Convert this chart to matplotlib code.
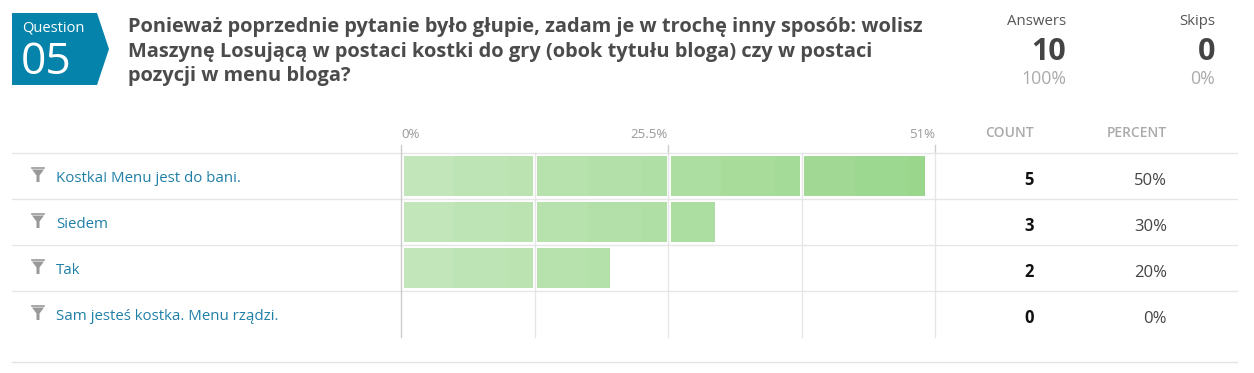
import matplotlib.pyplot as plt
import matplotlib.transforms as mtransforms
import numpy as np
from matplotlib.colors import to_rgb

plt.rcParams['font.family'] = ['Open Sans', 'DejaVu Sans']

question_no = '05'
question_lines = ['Ponieważ poprzednie pytanie było głupie, zadam je w trochę inny sposób: wolisz',
                  'Maszynę Losującą w postaci kostki do gry (obok tytułu bloga) czy w postaci',
                  'pozycji w menu bloga?']
answers = ['Kostka! Menu jest do bani.', 'Siedem', 'Tak', 'Sam jesteś kostka. Menu rządzi.']
counts = [5, 3, 2, 0]
percents = [50, 30, 20, 0]
total_answers = 10
total_skips = 0
axis_max = 51
ticks = [0, 25.5, 51]
tick_labels = ['0%', '25.5%', '51%']

W, H = 1254, 373
fig = plt.figure(figsize=(W / 100, H / 100), dpi=100)

# pixel-coordinate overlay for the decorations
bg = fig.add_axes([0, 0, 1, 1])
bg.set_xlim(0, W)
bg.set_ylim(H, 0)
bg.axis('off')

# data axes for the bars
x0, x1, y0, y1 = 401, 935, 153, 337
ax = fig.add_axes([x0 / W, (H - y1) / H, (x1 - x0) / W, (y1 - y0) / H])
ax.set_xlim(0, axis_max)
ax.set_ylim(len(answers), 0)
ax.axis('off')
ax.patch.set_alpha(0)

# header: question badge
badge = plt.Polygon([[12, 13], [97, 13], [109, 49], [97, 85], [12, 85]],
                    closed=True, color='#0683aa', lw=0)
bg.add_patch(badge)
bg.text(22, 32, 'Question', color='white', fontsize=10.5, va='baseline', ha='left')
bg.text(21, 74, question_no, color='white', fontsize=32, fontweight='medium',
        va='baseline', ha='left')
for j, line in enumerate(question_lines):
    bg.text(128, 32 + 24.5 * j, line, color='#4b4b4b', fontsize=14.4,
            fontweight='bold', va='baseline', ha='left')

# answers / skips
for xr, lab, num, pct in [(1066, 'Answers', total_answers, '100%'),
                          (1215, 'Skips', total_skips, '0%')]:
    bg.text(xr, 25, lab, color='#555555', fontsize=10.8, ha='right', va='baseline')
    bg.text(xr, 60, str(num), color='#444444', fontsize=22, fontweight='bold',
            ha='right', va='baseline')
    bg.text(xr, 84, pct, color='#aaaaaa', fontsize=12.8, ha='right', va='baseline')

# column headers
bg.text(1034, 137, 'COUNT', color='#aaaaaa', fontsize=10, fontweight='semibold',
        ha='right', va='baseline')
bg.text(1167, 137, 'PERCENT', color='#aaaaaa', fontsize=10, fontweight='semibold',
        ha='right', va='baseline')
bg.plot([12, 1237], [362, 362], color='#e3e3e3', lw=1)

# axis ticks
tick_tr = mtransforms.blended_transform_factory(ax.transData, bg.transData)
for t, lab in zip(ticks, tick_labels):
    ha = 'left' if t == 0 else 'right'
    bg.text(t, 137.5, lab, transform=tick_tr, color='#999999', fontsize=9.5,
            ha=ha, va='baseline')
    bg.plot([t, t], [145, 153], transform=tick_tr, color='#cccccc', lw=1)

# grid
for g in np.linspace(0, axis_max, 5):
    ax.axvline(g, color='#cccccc' if g == 0 else '#e6e6e6', lw=1, zorder=0,
               clip_on=False)

row_tr = mtransforms.blended_transform_factory(bg.transData, ax.transData)
for i in range(len(answers)):
    bg.plot([12, 1237], [i, i], transform=row_tr, color='#e6e6e6', lw=1)

# gradient bars, split at grid lines
c_light = np.array(to_rgb('#c4e7bc'))
c_dark = np.array(to_rgb('#98d68a'))
step = axis_max / 10
seg = axis_max / 4
gap = 0.25
for i, p in enumerate(percents):
    s = 0.0
    while s < p - 1e-9:
        e = min(s + step, p)
        # cut at segment borders
        k = np.floor(s / seg + 1e-9)
        seg_end = (k + 1) * seg
        if e > seg_end:
            e = seg_end
        left = s + (gap if abs(s - k * seg) < 1e-9 else 0)
        right = e - (gap / 2 if abs(e - seg_end) < 1e-9 and e < p else 0)
        frac = ((s + e) / 2) / axis_max
        col = c_light + (c_dark - c_light) * frac
        ax.barh(i + 0.5, right - left, left=left, height=0.85, color=col, lw=0, zorder=2)
        s = e

# funnel icon
def funnel(cx, cy):
    pts = [[cx - 6, cy - 5.5], [cx + 6, cy - 5.5], [cx + 1.5, cy + 0.5], [cx + 1.5, cy + 7],
           [cx - 1.5, cy + 7], [cx - 1.5, cy + 0.5]]
    bg.add_patch(plt.Polygon(pts, closed=True, color='#999999', lw=0))
    bg.plot([cx - 6, cx + 6], [cy - 7, cy - 7], color='#999999', lw=1.2)

for i, (lab, c, p) in enumerate(zip(answers, counts, percents)):
    yc = 176 + 46 * i
    funnel(38, yc - 1)
    bg.text(56, yc + 6.3, lab, color='#1f7fa6', fontsize=10.8, ha='left', va='baseline')
    bg.text(1034, yc + 9, str(c), color='#111111', fontsize=12, fontweight='bold',
            ha='right', va='baseline')
    bg.text(1167, yc + 9, f'{p}%', color='#444444', fontsize=12, ha='right', va='baseline')

fig.savefig('out.png', dpi=100, facecolor='white')
